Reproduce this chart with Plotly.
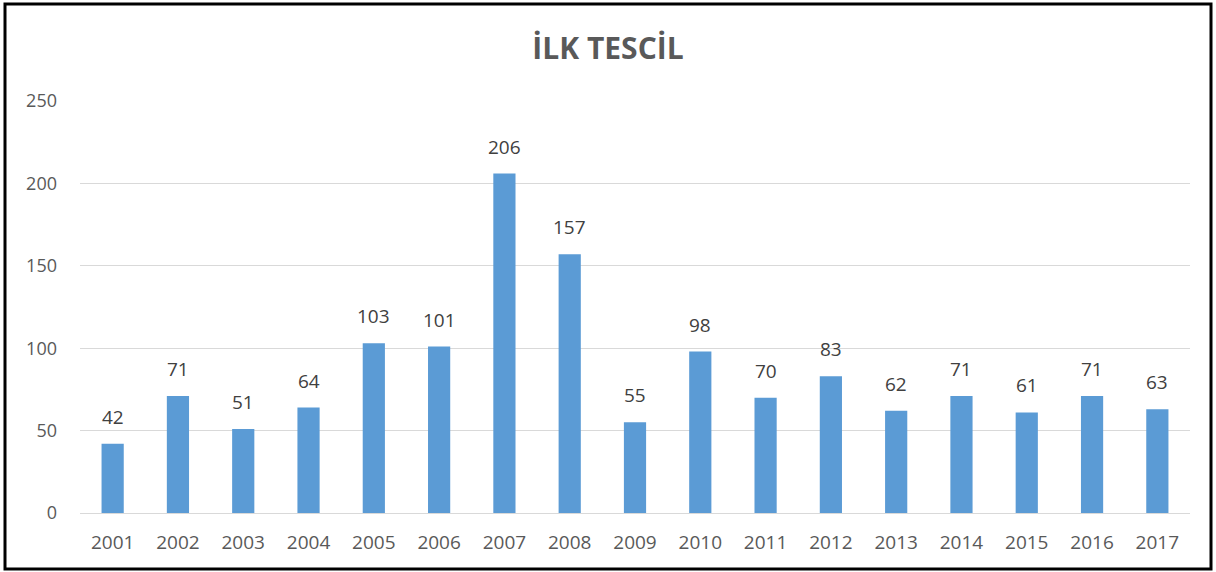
import plotly.graph_objects as go

years = [str(y) for y in range(2001, 2018)]
counts = [42, 71, 51, 64, 103, 101, 206, 157, 55, 98, 70, 83, 62, 71, 61, 71, 63]
y_ticks = [0, 50, 100, 150, 200, 250]

W, H = 1216, 572
L, R, T, B = 80, 26, 101, 59
pw, ph = W - L - R, H - T - B

fig = go.Figure()
fig.add_trace(go.Bar(
    x=years, y=counts,
    marker=dict(color="#5b9bd5", line=dict(width=0)),
    hoverinfo="x+y",
))

# value labels above the bars (x given as category index)
for i, c in enumerate(counts):
    fig.add_annotation(x=i, y=c, xref="x", yref="y", text=str(c), showarrow=False,
                       yanchor="bottom", yshift=12,
                       font=dict(size=19, color="#404040"))

fig.update_layout(
    width=W, height=H,
    margin=dict(l=L, r=R, t=T, b=B),
    paper_bgcolor="white", plot_bgcolor="white",
    font=dict(family="Open Sans, sans-serif", color="#595959"),
    title=dict(text="<b>İLK TESCİL</b>", x=0.5, xanchor="center", y=1 - 48 / H, yanchor="middle",
               font=dict(size=30, color="#595959")),
    bargap=0.66,
    showlegend=False,
)
fig.update_yaxes(range=[0, 250], tickvals=y_ticks, showgrid=True, gridcolor="#d9d9d9", gridwidth=1,
                 zeroline=False, showline=False, ticks="", ticklabelstandoff=22,
                 tickfont=dict(size=18, color="#595959"))
fig.update_xaxes(type="category", range=[-0.5, len(years) - 0.5], showline=True, linecolor="#d9d9d9",
                 linewidth=1, ticks="", tickfont=dict(size=19, color="#595959"), ticklabelstandoff=12)

# outer black frame around the whole chart
fig.add_shape(type="rect", xref="paper", yref="paper",
              x0=(5 - L) / pw, x1=(1211 - L) / pw,
              y0=-(569 - (T + ph)) / ph, y1=1 + (T - 4) / ph,
              line=dict(color="black", width=3), layer="above")

fig.write_html("out.html", config={"displayModeBar": False},
               post_script="document.body.style.margin='0';")
